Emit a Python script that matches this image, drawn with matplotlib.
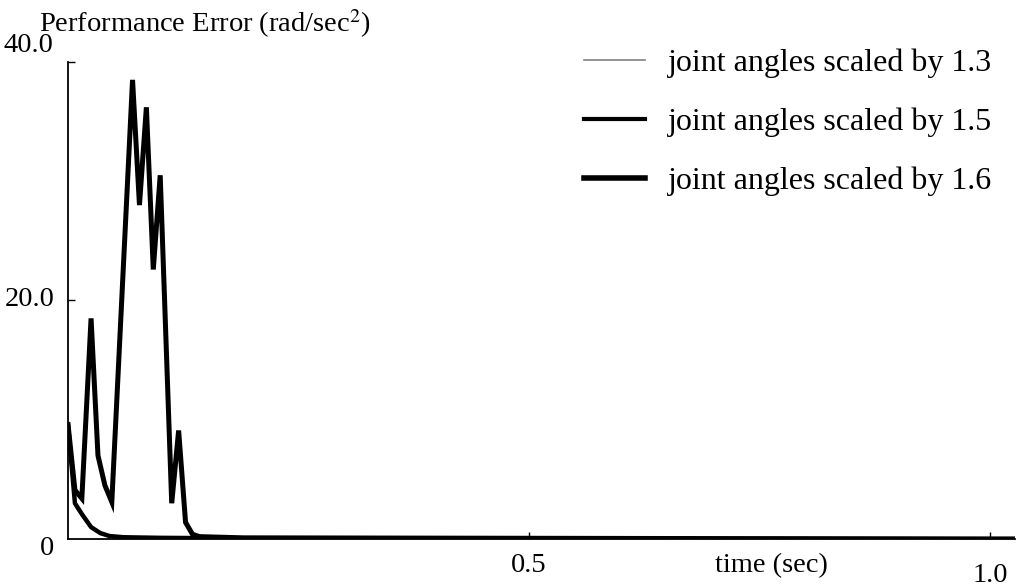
import matplotlib
matplotlib.use('Agg')
import matplotlib.pyplot as plt
from matplotlib.lines import Line2D

plt.rcParams['font.family'] = ['Liberation Serif', 'DejaVu Serif']

# performance error traces (rad/sec^2) against time (sec)
t_13 = [0.0, 0.0075, 0.015, 0.025, 0.035, 0.045, 0.06, 0.1, 0.2, 1.025]
err_13 = [9.4, 2.8, 1.9, 0.9, 0.4, 0.2, 0.1, 0.05, 0.02, 0.0]

t_15 = [0.0, 0.0075, 0.015, 0.025, 0.035, 0.045, 0.06, 0.1, 0.2, 1.025]
err_15 = [9.6, 3.0, 2.1, 1.0, 0.5, 0.25, 0.15, 0.1, 0.05, 0.0]

t_16 = [0.0, 0.0075, 0.015, 0.025, 0.0325, 0.04, 0.0475, 0.07, 0.0775, 0.085,
        0.0925, 0.1, 0.1075, 0.1125, 0.12, 0.1275, 0.135, 0.1425, 0.19, 1.0, 1.025]
err_16 = [9.6, 4.1, 3.4, 18.5, 7.0, 4.5, 3.1, 38.5, 28.0, 36.2,
          22.6, 30.5, 14.0, 3.0, 9.1, 1.4, 0.4, 0.2, 0.1, 0.0, 0.0]

labels = ['joint angles scaled by 1.3', 'joint angles scaled by 1.5',
          'joint angles scaled by 1.6']

fig = plt.figure(figsize=(10.29, 5.88), dpi=100)
ax = fig.add_axes([0.0661, 0.0833, 0.92, 0.8113])

ax.plot(t_13, err_13, color='#808080', lw=1.2, zorder=2)
ax.plot(t_15, err_15, color='black', lw=3.2, zorder=3)
ax.plot(t_16, err_16, color='black', lw=3.6, zorder=4, solid_joinstyle='miter')

ax.set_xlim(0, 1.027)
ax.set_ylim(0, 40)
ax.spines['top'].set_visible(False)
ax.spines['right'].set_visible(False)
for s in ('left', 'bottom'):
    ax.spines[s].set_linewidth(1.3)

ax.set_xticks([0.5, 1.0])
ax.set_yticks([20, 40])
ax.tick_params(direction='in', length=5, width=1, labelbottom=False, labelleft=False)

fs = 20.5
# x positions of the bottom labels are in data units
xt = ax.get_xaxis_transform()
ax.text(0.5, -0.03, '0.5', transform=xt, ha='center', va='top', fontsize=fs)
ax.text(0.763, -0.03, 'time (sec)', transform=xt, ha='center', va='top', fontsize=fs)
ax.text(1.0, -0.05, '1.0', transform=xt, ha='center', va='top', fontsize=fs)

fig.text(0.003, 0.922, '40.0', ha='left', va='center', fontsize=fs)
fig.text(0.005, 0.49, '20.0', ha='left', va='center', fontsize=fs)
fig.text(0.046, 0.068, '0', ha='center', va='center', fontsize=fs)
fig.text(0.038, 0.960, 'Performance Error (rad/sec$^{2}$)', ha='left', va='center',
         fontsize=fs, math_fontfamily='stix')

handles = [Line2D([], [], color='#808080', lw=1.2),
           Line2D([], [], color='black', lw=3.0),
           Line2D([], [], color='black', lw=4.0)]
fig.legend(handles, labels, loc='upper left', bbox_to_anchor=(0.540, 0.966),
           frameon=False, fontsize=23, handlelength=1.9, handletextpad=0.7,
           labelspacing=0.92)

fig.savefig('out.png', dpi=100)
